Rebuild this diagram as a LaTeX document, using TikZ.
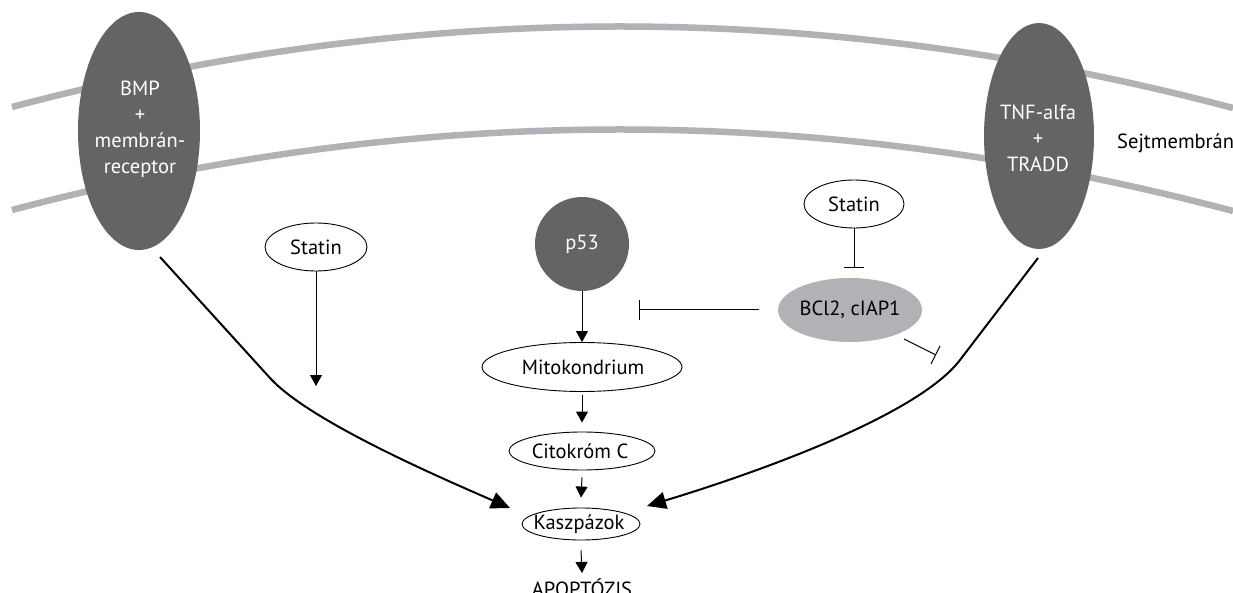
\documentclass[tikz,border=0pt]{standalone}
\usepackage{fontspec}
\setmainfont{PT Sans}
\usetikzlibrary{shapes.geometric,arrows.meta}
\definecolor{dark}{HTML}{636466}
\definecolor{light}{HTML}{B1B2B5}
\begin{document}
\begin{tikzpicture}[x=1pt,y=-1pt,
 every node/.style={font=\fontsize{20.5}{26}\selectfont, inner sep=0pt},
 membrane/.style={draw=light, line width=6.5pt},
 darkell/.style={ellipse, fill=dark},
 whiteell/.style={ellipse, draw=black, line width=0.9pt, fill=white},
 lighttext/.style={text=white, align=center},
 arr/.style={-{Triangle[length=11pt,width=12pt]}, line width=1pt},
 inh/.style={-{Bar[width=20pt,line width=1pt]}, line width=1pt},
 bigarr/.style={-{Triangle[length=19pt,width=17pt]}, line width=2pt}]
\useasboundingbox (0,0) rectangle (1233,593);
\clip (0,0) rectangle (1233,593);
% membranes
\draw[membrane] (12,107) .. controls (419,-1) and (826,0) .. (1233,108);
\draw[membrane] (12,210) .. controls (419,102) and (826,103) .. (1233,211);
% receptors
\node[darkell, minimum width=122pt, minimum height=238pt] (bmp) at (139,131) {};
\node[lighttext] (bmpT) at (140,129) {BMP\\+\\membrán-\\receptor};
\node[darkell, minimum width=110pt, minimum height=226pt] (tnf) at (1039,136) {};
\node[lighttext] (tnfT) at (1038,138) {TNF-alfa\\+\\TRADD};
\node[anchor=west] (sejt) at (1117,143) {Sejtmembrán};
% statins
\node[whiteell, minimum width=102pt, minimum height=48pt] (statL) at (316,247) {};
\node (statLT) at (316,247) {Statin};
\node[whiteell, minimum width=100pt, minimum height=48pt] (statR) at (854,204) {};
\node (statRT) at (854,204) {Statin};
% BCl2
\node[ellipse, fill=light, minimum width=144pt, minimum height=64pt] (bcl) at (850,310) {};
\node (bclT) at (850,310) {BCl2, cIAP1};
% p53 chain
\node[circle, fill=dark, minimum size=94pt] (p53) at (582,244) {};
\node[text=white] (p53T) at (582,244) {p53};
\node[whiteell, minimum width=200pt, minimum height=49pt] (mito) at (582,367) {};
\node (mitoT) at (583,367) {Mitokondrium};
\node[whiteell, minimum width=146pt, minimum height=38pt] (cito) at (582,451) {};
\node (citoT) at (580,451) {Citokróm C};
\node[whiteell, minimum width=118pt, minimum height=32pt] (kasz) at (581,524) {};
\node (kaszT) at (579,524) {Kaszpázok};
\node[anchor=north] (apo) at (582,578) {APOPTÓZIS};
% coordinates
\coordinate (sLend) at (316,386);
\coordinate (sRend) at (854,268);
\coordinate (bclL) at (759,310);
\coordinate (bclLend) at (639,310);
\coordinate (bclR) at (904,339);
\coordinate (bclRend) at (936,355);
\coordinate (bL) at (160,257);
\coordinate (bLm) at (270,378);
\coordinate (kL) at (510,508);
\coordinate (tR) at (1038,258);
\coordinate (tRm) at (960,360);
\coordinate (kR) at (647,506);
% connectors
\draw[arr] (statL) -- (sLend);
\draw[inh] (statR) -- (sRend);
\draw[inh] (bclL) -- (bclLend);
\draw[inh] (bclR) -- (bclRend);
\draw[arr] (p53) -- (mito);
\draw[arr] ([yshift=-3pt]mito.south) -- ([yshift=9pt]cito.north);
\draw[arr] ([yshift=-7pt]cito.south) -- ([yshift=10pt]kasz.north);
\draw[arr] ([yshift=-10pt]kasz.south) -- ([yshift=5pt]apo.north);
\draw[bigarr] (bL) -- (bLm) .. controls (310,422) and (446,480) .. (kL);
\draw[bigarr] (tR) -- (tRm) .. controls (914,420) and (733,480) .. (kR);
\end{tikzpicture}
\end{document}
